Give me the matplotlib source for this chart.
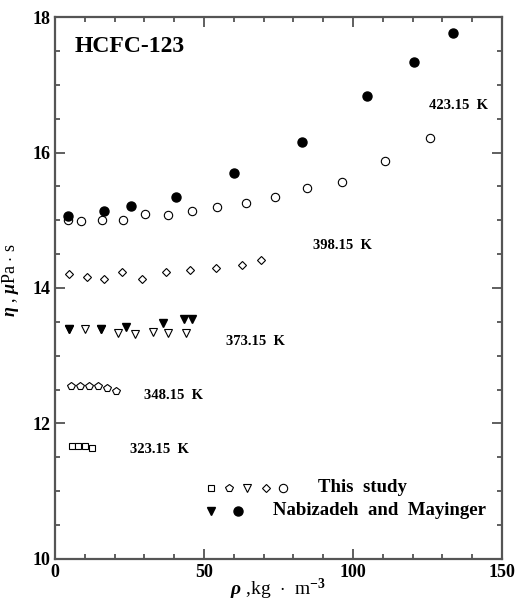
import matplotlib
matplotlib.use('Agg')
import matplotlib.pyplot as plt

plt.rcParams['font.family'] = ['Liberation Serif', 'DejaVu Serif']
plt.rcParams['font.weight'] = 'bold'
plt.rcParams['mathtext.fontset'] = 'custom'
plt.rcParams['mathtext.rm'] = 'Liberation Serif:bold'
plt.rcParams['mathtext.it'] = 'Liberation Serif:italic'
plt.rcParams['mathtext.bf'] = 'Liberation Serif:bold'

# This study (open symbols)
rho_323 = [5.6, 7.8, 10.1, 12.5]
eta_323 = [11.67, 11.67, 11.67, 11.64]
rho_348 = [5.4, 8.4, 11.4, 14.3, 17.3, 20.5]
eta_348 = [12.56, 12.56, 12.55, 12.55, 12.52, 12.48]
rho_373 = [4.8, 10.1, 15.4, 21.0, 26.8, 32.8, 38.0, 43.9]
eta_373 = [13.39, 13.39, 13.39, 13.34, 13.32, 13.35, 13.33, 13.33]
rho_398 = [4.7, 10.6, 16.5, 22.4, 29.3, 37.1, 45.3, 54.0, 62.7, 69.0]
eta_398 = [14.21, 14.16, 14.14, 14.23, 14.13, 14.23, 14.27, 14.29, 14.34, 14.41]
rho_423 = [4.5, 8.7, 15.7, 22.9, 30.2, 37.8, 46.1, 54.5, 64.1, 73.9,
           84.7, 96.4, 110.7, 125.8]
eta_423 = [15.00, 14.99, 15.01, 15.01, 15.09, 15.08, 15.14, 15.20, 15.26, 15.34,
           15.48, 15.57, 15.88, 16.21]

# Nabizadeh and Mayinger (filled symbols)
rho_nm373 = [4.8, 15.4, 23.7, 36.3, 43.4, 45.9]
eta_nm373 = [13.39, 13.40, 13.43, 13.49, 13.54, 13.54]
rho_nm423 = [4.5, 16.4, 25.4, 40.5, 60.1, 82.8, 104.8, 120.5, 133.7]
eta_nm423 = [15.07, 15.14, 15.21, 15.34, 15.70, 16.16, 16.84, 17.33, 17.77]

temp_labels = ['423.15  K', '398.15  K', '373.15  K', '348.15  K', '323.15  K']
label_x = [125.5, 86.6, 57.4, 29.9, 25.2]
label_y = [16.69, 14.62, 13.21, 12.41, 11.61]

fig = plt.figure(figsize=(5.16, 6.01), dpi=100)
ax = fig.add_axes([0.1066, 0.0699, 0.8663, 0.9018])

ms = dict(mfc='white', mec='black', mew=0.8, ls='none')
ax.plot(rho_323, eta_323, marker='s', ms=4.5, **ms)
ax.plot(rho_348, eta_348, marker='p', ms=6, **ms)
ax.plot(rho_373, eta_373, marker='v', ms=5.5, **ms)
ax.plot(rho_398, eta_398, marker='D', ms=4.5, **ms)
ax.plot(rho_423, eta_423, marker='o', ms=6, **ms)
ax.plot(rho_nm373, eta_nm373, marker='v', ms=6, color='black', ls='none')
ax.plot(rho_nm423, eta_nm423, marker='o', ms=6.5, color='black', ls='none')

ax.text(6.7, 17.57, 'HCFC-123', fontsize=17, fontweight='bold', va='center')
for t, x, y in zip(temp_labels, label_x, label_y):
    ax.text(x, y, t, fontsize=10.5, fontweight='bold', va='center')

# hand-made legend
row1 = 0.131
row2 = 0.0886
for m, xf, s in zip(['s', 'p', 'v', 'D', 'o'], [0.348, 0.390, 0.430, 0.471, 0.511],
                    [4.5, 6, 5.5, 4.5, 6]):
    ax.plot(xf, row1, marker=m, ms=s, transform=ax.transAxes, **ms)
ax.plot(0.349, row2, marker='v', ms=6, color='black', transform=ax.transAxes)
ax.plot(0.409, row2, marker='o', ms=6.5, color='black', transform=ax.transAxes)
ax.text(0.588, row1, 'This  study', fontsize=13.5, fontweight='bold',
        va='center', transform=ax.transAxes)
ax.text(0.488, row2, 'Nabizadeh  and  Mayinger', fontsize=13.5, fontweight='bold',
        va='center', transform=ax.transAxes)

ax.set_xlim(0, 150)
ax.set_ylim(10, 18)
ax.set_xticks([0, 50, 100, 150])
ax.set_xticks(range(0, 151, 10), minor=True)
ax.set_yticks([10, 12, 14, 16, 18])
ax.set_yticks([10 + 0.5 * i for i in range(17)], minor=True)
ax.tick_params(which='both', direction='in', top=True, right=True,
               width=1.2, colors='#444444', labelcolor='black', labelsize=13)
ax.tick_params(which='major', length=7)
ax.tick_params(which='minor', length=3.5)
for s in ax.spines.values():
    s.set_linewidth(1.6)
    s.set_color('#555555')

ax.set_xlabel(r'$\rho$ ,kg  $\cdot$  m$^{-3}$', fontsize=14, labelpad=-3)
ax.set_ylabel(r'$\eta$ , $\mu$Pa $\cdot$ s', fontsize=13, labelpad=2)
ax.yaxis.set_label_coords(-0.075, 0.515)

fig.savefig('out.png', dpi=100)
